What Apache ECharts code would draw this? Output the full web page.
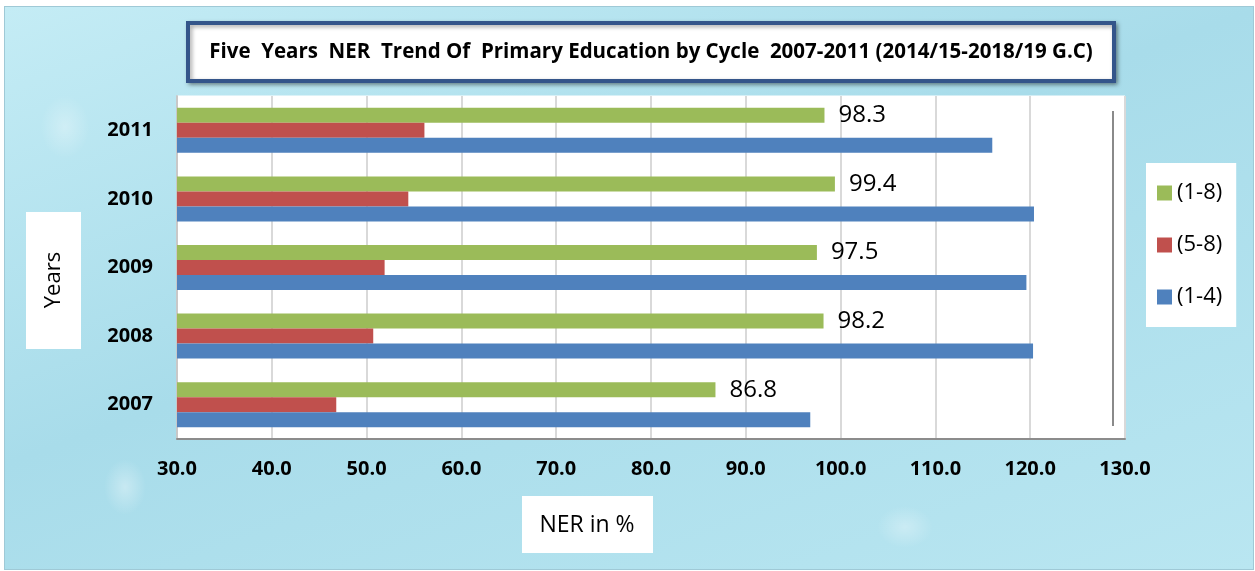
<!DOCTYPE html>
<html>
<head>
<meta charset="utf-8">
<script src="https://cdn.jsdelivr.net/npm/echarts@6/dist/echarts.min.js"></script>
<style>
  html, body { margin: 0; padding: 0; }
  body {
    width: 1255px; height: 571px; overflow: hidden;
    background: #fff;
  }
  #chart {
    position: absolute; left: 4px; top: 6px; width: 1248px; height: 562px;
    background:
      radial-gradient(ellipse 30px 40px at 120px 480px, rgba(255,255,255,0.35), rgba(255,255,255,0) 70%),
      radial-gradient(ellipse 40px 30px at 900px 520px, rgba(255,255,255,0.3), rgba(255,255,255,0) 70%),
      radial-gradient(ellipse 35px 45px at 60px 120px, rgba(255,255,255,0.3), rgba(255,255,255,0) 70%),
      linear-gradient(160deg, #c4ecf5 0%, #a8dcea 45%, #b9e6f1 100%);
    border: 1px solid #9fc9d6;
  }
</style>
</head>
<body>
<div id="chart"></div>
<script>
    var years = ['2007', '2008', '2009', '2010', '2011'];
    var cycle14 = [96.8, 120.3, 119.6, 120.4, 116.0];
    var cycle58 = [46.8, 50.7, 51.9, 54.4, 56.1];
    var cycle18 = [86.8, 98.2, 97.5, 99.4, 98.3];
    var legendNames = ['(1-8)', '(5-8)', '(1-4)'];

    var myChart = echarts.init(document.getElementById('chart'));

    var font = 'Open Sans, sans-serif';

    myChart.setOption({
        animation: false,
        title: {
            text: 'Five  Years  NER  Trend Of  Primary Education by Cycle  2007-2011 (2014/15-2018/19 G.C)',
            left: 641,
            top: 30,
            textAlign: 'center',
            textStyle: {
                fontFamily: font,
                fontWeight: 'bold',
                fontSize: 20.5,
                color: '#000'
            }
        },
        graphic: [{
            // title frame
            type: 'rect',
            z: -1,
            shape: { x: 183, y: 16, width: 926, height: 58 },
            style: {
                fill: '#fff',
                stroke: '#34558a',
                lineWidth: 4,
                shadowBlur: 4,
                shadowOffsetX: 2,
                shadowOffsetY: 2,
                shadowColor: 'rgba(0,0,0,0.35)'
            }
        }, {
            // y axis name box
            type: 'rect',
            shape: { x: 21, y: 205, width: 55, height: 137 },
            style: { fill: '#fff' }
        }, {
            type: 'text',
            x: 49,
            y: 273,
            rotation: Math.PI / 2,
            style: {
                text: 'Years',
                font: '22px ' + font,
                fill: '#000',
                align: 'center',
                verticalAlign: 'middle'
            }
        }, {
            // x axis name box
            type: 'rect',
            shape: { x: 517, y: 489, width: 131, height: 57 },
            style: { fill: '#fff' }
        }, {
            type: 'text',
            x: 582,
            y: 518,
            style: {
                text: 'NER in %',
                font: '23px ' + font,
                fill: '#000',
                align: 'center',
                verticalAlign: 'middle'
            }
        }, {
            // inner right edge of the plot frame
            type: 'line',
            shape: { x1: 1108, y1: 104, x2: 1108, y2: 419 },
            style: { stroke: '#8a8a8a', lineWidth: 2 }
        }],
        legend: {
            data: legendNames,
            orient: 'vertical',
            left: 1141,
            top: 156,
            itemWidth: 15,
            itemHeight: 15,
            itemGap: 30,
            backgroundColor: '#fff',
            padding: [19, 14, 19, 11],
            icon: 'rect',
            textStyle: {
                fontFamily: font,
                fontSize: 22,
                color: '#000'
            }
        },
        grid: {
            left: 172,
            right: 128,
            top: 89,
            bottom: 130,
            show: true,
            backgroundColor: '#fff',
            borderColor: '#fff'
        },
        xAxis: {
            type: 'value',
            min: 30,
            max: 130,
            interval: 10,
            axisLine: { show: true, lineStyle: { color: '#8c8c8c', width: 2 } },
            axisTick: { show: false },
            splitLine: { show: true, lineStyle: { color: '#d9d9d9', width: 2 } },
            axisLabel: {
                margin: 20,
                fontFamily: font,
                fontWeight: 'bold',
                fontSize: 20,
                color: '#000',
                formatter: function (v) { return v.toFixed(1); }
            }
        },
        yAxis: {
            type: 'category',
            data: years,
            axisLine: { show: true, lineStyle: { color: '#c8c8c8', width: 2 } },
            axisTick: { show: false },
            axisLabel: {
                margin: 24,
                fontFamily: font,
                fontWeight: 'bold',
                fontSize: 20,
                color: '#000'
            }
        },
        series: [{
            name: '(1-8)',
            type: 'bar',
            data: cycle18,
            barWidth: 15,
            barGap: '0%',
            barCategoryGap: '35%',
            itemStyle: { color: '#9bbb59' },
            label: {
                show: true,
                position: 'right',
                distance: 14,
                fontFamily: font,
                fontSize: 24,
                color: '#000',
                formatter: function (p) { return p.value.toFixed(1); }
            }
        }, {
            name: '(5-8)',
            type: 'bar',
            data: cycle58,
            barWidth: 15,
            itemStyle: { color: '#c0504d' }
        }, {
            name: '(1-4)',
            type: 'bar',
            data: cycle14,
            barWidth: 15,
            itemStyle: { color: '#4f81bd' }
        }]
    });
</script>
</body>
</html>
